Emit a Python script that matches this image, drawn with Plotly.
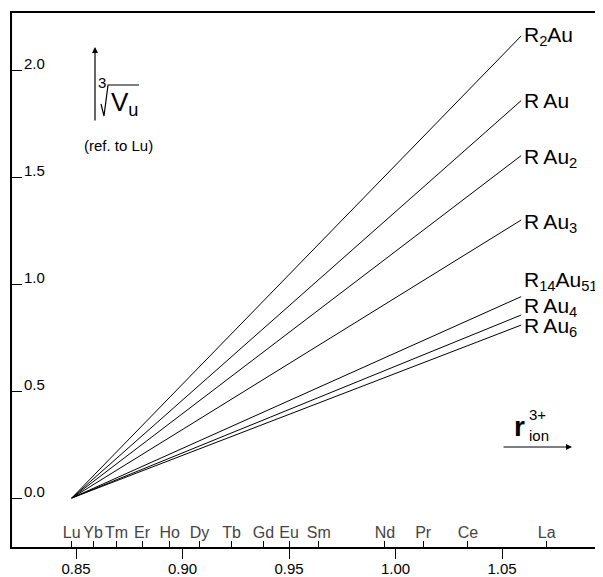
import plotly.graph_objects as go

# ---- data ----
compounds = ["R<sub>2</sub>Au", "R\u2009Au", "R\u2009Au<sub>2</sub>", "R\u2009Au<sub>3</sub>",
             "R<sub>14</sub>Au<sub>51</sub>", "R\u2009Au<sub>4</sub>", "R\u2009Au<sub>6</sub>"]
r_start = [0.848] * 7
r_end = [1.059] * 7
v_start = [0.0] * 7
v_end = [2.159, 1.857, 1.600, 1.299, 0.941, 0.855, 0.808]
label_yshift = [0, 0, -2, -3, 16, 8, -2]

elements = ["Lu", "Yb", "Tm", "Er", "Ho", "Dy", "Tb", "Gd", "Eu", "Sm", "Nd", "Pr", "Ce", "La"]
radii = [0.848, 0.858, 0.869, 0.881, 0.894, 0.908, 0.923, 0.938, 0.950, 0.964, 0.995, 1.013, 1.034, 1.071]

x_ticks = [0.85, 0.90, 0.95, 1.00, 1.05]
x_ticktext = ["0.85", "0.90", "0.95", "1.00", "1.05"]
y_ticks = [0.0, 0.5, 1.0, 1.5, 2.0]
y_ticktext = ["0.0", "0.5", "1.0", "1.5", "2.0"]

# ---- layout helpers (window pixel -> data) ----
X0PX, XSCALE = 76, 2130.0
Y0PX, YSCALE = 498, 214.0
def xd(px):
    return 0.85 + (px - X0PX) / XSCALE
def yd(py):
    return (Y0PX - py) / YSCALE

FONT = "Liberation Sans, Arial, sans-serif"

fig = go.Figure()
for name, xs, xe, ys, ye in zip(compounds, r_start, r_end, v_start, v_end):
    fig.add_trace(go.Scatter(x=[xs, xe], y=[ys, ye], mode="lines",
                             line=dict(color="black", width=1), name=name,
                             showlegend=False, hoverinfo="skip"))

# invisible trace for the element axis
fig.add_trace(go.Scatter(x=radii, y=[0] * len(radii), xaxis="x2", mode="markers",
                         marker=dict(opacity=0), showlegend=False, hoverinfo="skip"))

# page body has an 8px margin: figure is placed at (8, 8) in the window
xrange = [xd(12), xd(603)]
yrange = [yd(547), yd(13)]

fig.update_layout(
    width=595, height=569,
    margin=dict(l=4, r=0, t=5, b=30),
    paper_bgcolor="white", plot_bgcolor="white",
    font=dict(family=FONT, color="black"),
    xaxis=dict(range=xrange, showgrid=False, zeroline=False, automargin=False,
               showline=True, linecolor="black", linewidth=1.5, mirror=True,
               ticks="outside", ticklen=10, tickwidth=1.2, tickcolor="black",
               ticklabelstandoff=-3,
               tickvals=x_ticks, ticktext=x_ticktext, tickfont=dict(size=15)),
    xaxis2=dict(range=xrange, overlaying="x", anchor="y", side="bottom",
                showgrid=False, zeroline=False, showline=False, automargin=False,
                ticks="inside", ticklen=6, tickwidth=1, tickcolor="black",
                ticklabelposition="inside",
                tickvals=radii, ticktext=elements, tickfont=dict(size=16)),
    yaxis=dict(range=yrange, showgrid=False, zeroline=False, automargin=False,
               showline=True, linecolor="black", linewidth=1.5,
               ticks="inside", ticklen=10, tickwidth=1.2, tickcolor="black",
               tickvals=y_ticks, showticklabels=False),
)

# left frame line (explicit, in paper coordinates so it is not clipped)
fig.add_shape(type="line", xref="paper", yref="paper", x0=-0.0013, x1=-0.0013,
              y0=-0.002, y1=1.002, line=dict(color="black", width=1.6), layer="above")

# y tick labels, sitting on their tick marks
for v, t in zip(y_ticks, y_ticktext):
    fig.add_annotation(x=xd(22), y=v, text=t, showarrow=False, xanchor="left",
                       yanchor="bottom", yshift=-4, font=dict(size=15, family=FONT))

# series labels
for name, xe, ye, ys in zip(compounds, r_end, v_end, label_yshift):
    fig.add_annotation(x=xe, y=ye, text=name, showarrow=False, xanchor="left",
                       yanchor="middle", xshift=1, yshift=ys,
                       font=dict(size=21, family=FONT))

# y-axis label: arrow, cube-root sign, V_u
fig.add_annotation(x=xd(95), y=yd(47), ax=xd(95), ay=yd(122), axref="x", ayref="y",
                   xref="x", yref="y", text="", showarrow=True, arrowhead=2,
                   arrowsize=1, arrowwidth=1.2, arrowcolor="black")
fig.add_annotation(x=xd(102), y=yd(82), text="3", showarrow=False,
                   font=dict(size=15, family=FONT))
rad = [(101, 104), (104, 116), (108, 85), (139, 85)]
path = "M " + " L ".join(f"{xd(px)},{yd(py)}" for px, py in rad)
fig.add_shape(type="path", path=path, line=dict(color="black", width=1.2))
fig.add_annotation(x=xd(109), y=yd(103), text="V<sub>u</sub>", showarrow=False,
                   xanchor="left", yanchor="middle", font=dict(size=26, family=FONT))
fig.add_annotation(x=xd(118), y=yd(145), text="(ref. to Lu)", showarrow=False,
                   font=dict(size=15, family=FONT))

# x-axis label
fig.add_annotation(x=xd(519), y=yd(426), text="<b>r</b>", showarrow=False,
                   font=dict(size=28, family=FONT))
fig.add_annotation(x=xd(527), y=yd(414), text="3+", showarrow=False, xanchor="left",
                   font=dict(size=15, family=FONT))
fig.add_annotation(x=xd(527), y=yd(435), text="ion", showarrow=False, xanchor="left",
                   font=dict(size=15, family=FONT))
fig.add_annotation(x=xd(572), y=yd(447), ax=xd(502), ay=yd(447), axref="x", ayref="y",
                   xref="x", yref="y", text="", showarrow=True, arrowhead=2,
                   arrowsize=1, arrowwidth=1.2, arrowcolor="black")

fig.write_html("out.html")
